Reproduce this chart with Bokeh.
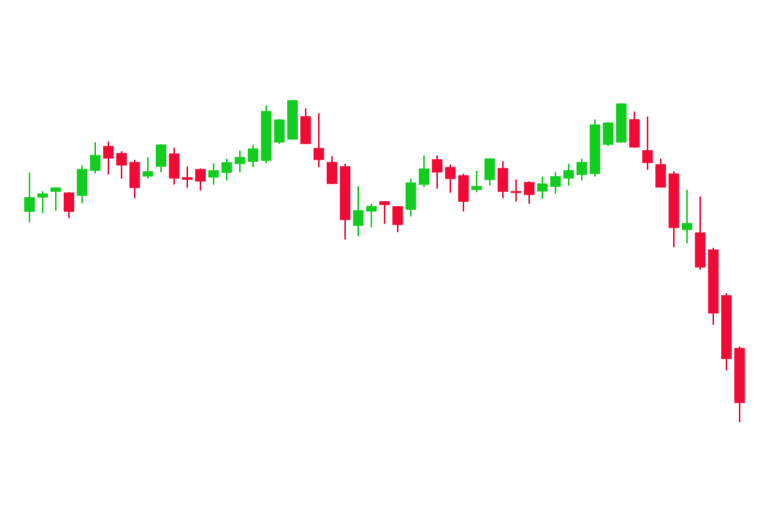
from bokeh.plotting import figure
from bokeh.models import ColumnDataSource, Range1d
from bokeh.embed import file_html
from bokeh.resources import INLINE

opens = [249, 263.3, 269, 267.7, 265, 290, 314.3, 307.3, 298.3, 284.3,
         294, 306.7, 283, 291.3, 283.3, 288, 296.7, 299, 300, 318.3,
         321.3, 344, 312.3, 298.3, 294, 235, 249.3, 259, 254, 251,
         276, 301, 293.3, 285, 270.7, 280.7, 292.3, 269.3, 278.3, 269.3,
         274, 282.3, 285.7, 286.7, 316, 318.3, 341, 310, 296, 286.7,
         230.7, 227.7, 210.7, 165, 112.3]
highs = [288, 269.3, 273, 268, 295, 318.3, 319, 309.3, 300.7, 303.3,
         316, 312.7, 294, 292, 297.3, 301.7, 310, 315.7, 355, 341,
         360.5, 352.3, 347.3, 304.3, 296.7, 274.3, 256.7, 259.2, 254.2, 281.7,
         305, 305, 296, 286.7, 290, 302, 299.3, 281, 279, 284,
         288.3, 296.7, 301.7, 341, 338, 357, 349, 344, 301.7, 289.3,
         270.7, 264, 212.7, 167.3, 114]
lows = [238, 247.3, 250, 242.3, 257.3, 287.3, 286, 281.7, 262.3, 281.7,
        288.3, 276, 272.7, 270, 275.7, 280, 288.3, 293.3, 297.3, 316.7,
        321, 316.5, 293.3, 276.5, 221, 224.3, 233.3, 236.7, 228.3, 244,
        273.3, 271.7, 267.7, 249, 268.3, 275, 262.3, 259, 256.7, 261.7,
        266.7, 275, 280, 284, 314.3, 318, 313, 290.7, 273, 213.3,
        217.3, 190.7, 135.7, 90, 38.3]
closes = [263, 266.7, 272.7, 249, 291.3, 305.3, 302.3, 295.3, 272.7, 289,
          315.7, 282.3, 281, 279.3, 290, 298, 303.3, 311.7, 349.3, 340.7,
          360, 316.7, 300.7, 276.7, 240.7, 250, 254.3, 255.7, 235.7, 277.7,
          291.7, 288.3, 281.7, 259, 274.3, 301.7, 269, 267.7, 265.7, 276.7,
          284, 290, 298.3, 335.7, 337.7, 356.7, 313.3, 297.7, 273.3, 232.7,
          237.3, 193.3, 147.3, 101.7, 57.7]

GREEN = "#12cc1f"
RED = "#f00a35"

idx = list(range(len(opens)))
colors = [GREEN if c >= o else RED for o, c in zip(opens, closes)]
tops = [max(o, c) for o, c in zip(opens, closes)]
bottoms = [min(o, c) for o, c in zip(opens, closes)]

src = ColumnDataSource(dict(x=idx, high=highs, low=lows, top=tops,
                            bottom=bottoms, color=colors))

p = figure(width=752, height=496, output_backend="svg", toolbar_location=None,
           x_axis_type=None, y_axis_type=None, min_border=0,
           x_range=Range1d(-2.205, 54.98), y_range=Range1d(-36, 460))
p.outline_line_color = None
p.background_fill_color = "white"
p.border_fill_color = "white"
p.grid.visible = False

p.segment(x0="x", y0="low", x1="x", y1="high", line_color="color",
          line_width=1.5, source=src)
p.vbar(x="x", width=0.76, top="top", bottom="bottom", fill_color="color",
       line_color="color", line_width=0.5, source=src)

open("out.html", "w").write(file_html(p, INLINE))
